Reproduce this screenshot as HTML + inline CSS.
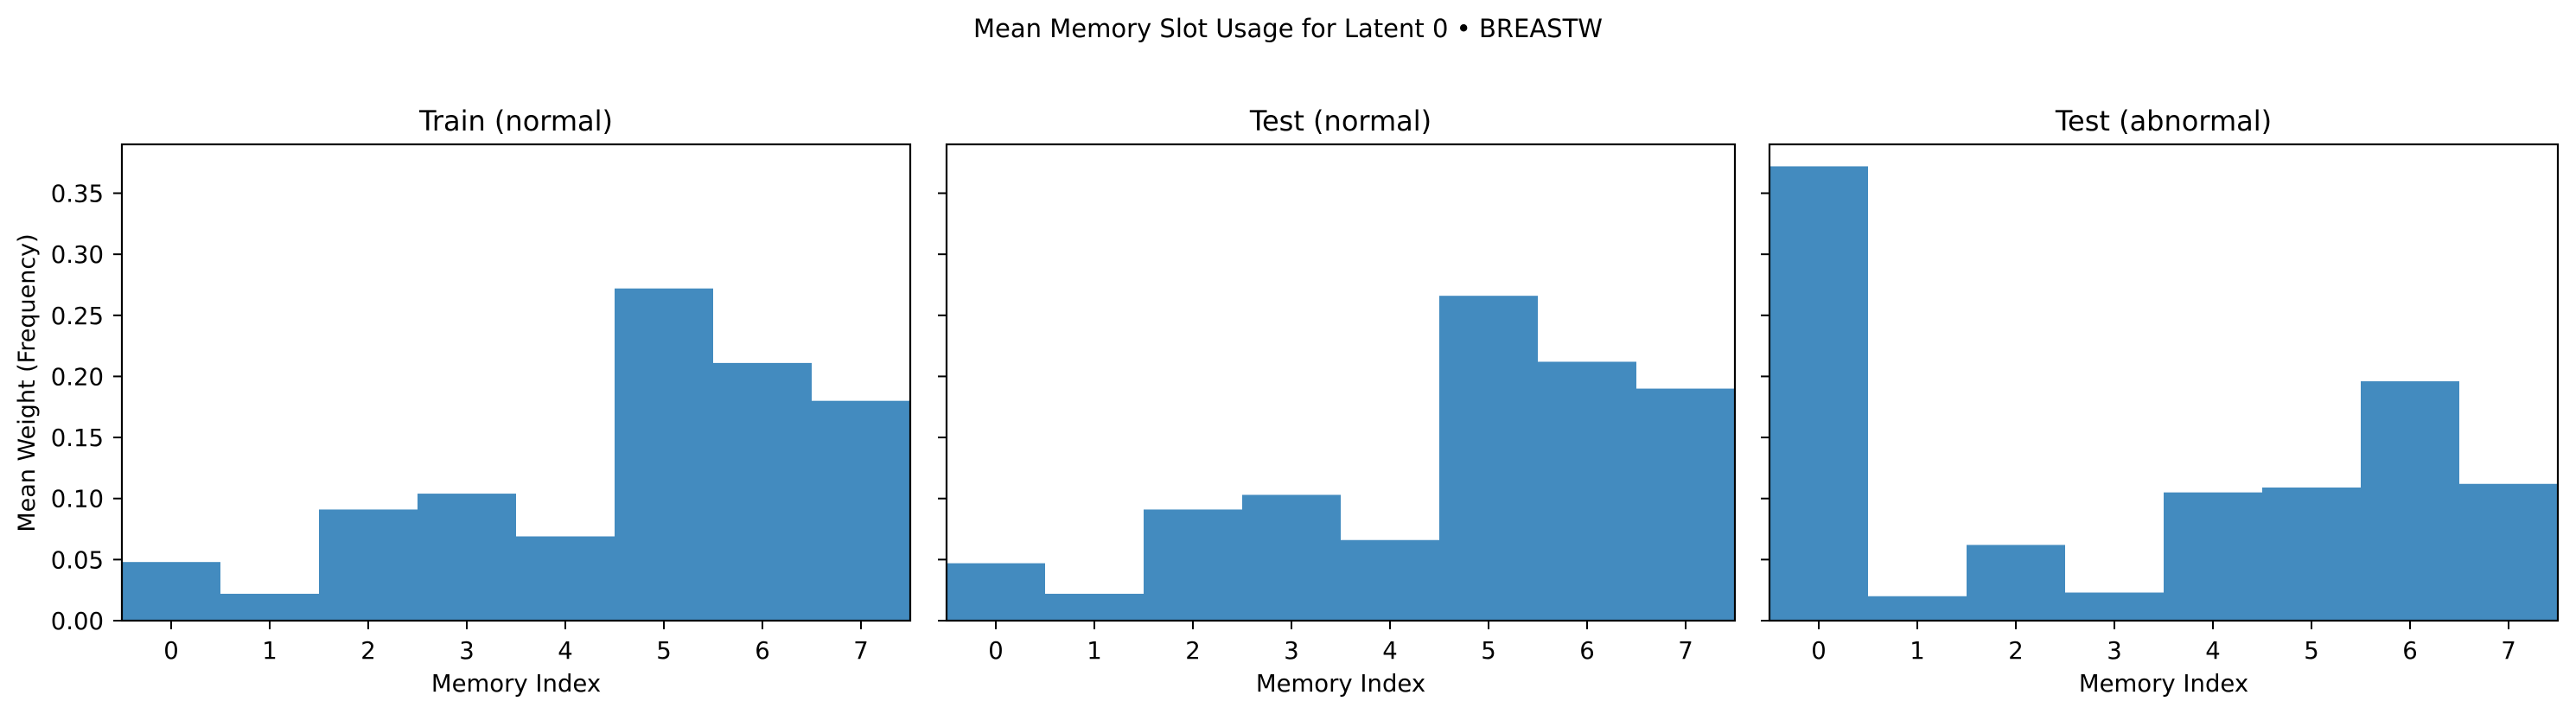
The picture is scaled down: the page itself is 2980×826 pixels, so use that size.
<!DOCTYPE html>
<html><head><meta charset="utf-8"><style>
html,body{margin:0;padding:0;background:#fff;}
svg{display:block;font-family:"DejaVu Sans","Liberation Sans",sans-serif;}
</style></head><body>
<svg id="chart" width="2980" height="826" viewBox="0 0 2980 826">
<text x="1490" y="43" font-size="29" text-anchor="middle" fill="#000">Mean Memory Slot Usage for Latent 0 • BREASTW</text>
<text transform="translate(40,443) rotate(-90)" font-size="27" text-anchor="middle" fill="#000">Mean Weight (Frequency)</text>
</svg>
<script>
const categories = [0,1,2,3,4,5,6,7];
const panelTitles = ["Train (normal)", "Test (normal)", "Test (abnormal)"];
const trainNormal = [0.048, 0.022, 0.091, 0.104, 0.069, 0.272, 0.211, 0.180];
const testNormal = [0.047, 0.022, 0.091, 0.103, 0.066, 0.266, 0.212, 0.190];
const testAbnormal = [0.372, 0.020, 0.062, 0.023, 0.105, 0.109, 0.196, 0.112];
const yTicks = [0, 0.05, 0.10, 0.15, 0.20, 0.25, 0.30, 0.35];
const yMax = 0.39;

{
const svg = document.getElementById('chart');
const NS = 'http://www.w3.org/2000/svg';
const series = [trainNormal, testNormal, testAbnormal];
const lefts = [141, 1095, 2047];
const W = 912, axTop = 167, axBottom = 718;
function mk(tag, attrs){const e=document.createElementNS(NS,tag);for(const k in attrs)e.setAttribute(k,attrs[k]);svg.appendChild(e);return e;}

series.forEach((vals, p) => {
  const L = lefts[p];
  const xs = v => L + (v + 0.5) / categories.length * W;
  const ys = v => axBottom - v / yMax * (axBottom - axTop);
  vals.forEach((v, i) => {
    const r = mk('rect', {x: xs(categories[i] - 0.5), y: ys(v), width: xs(categories[i] + 0.5) - xs(categories[i] - 0.5), height: ys(0) - ys(v), fill: 'rgb(67,139,191)'});
    
    
  });
  const frame = mk('rect', {x: L, y: axTop, width: W, height: axBottom - axTop, fill: 'none', stroke: '#000', 'stroke-width': 2.2});
  
  
  const t = mk('text', {x: L + W / 2, y: 151, 'font-size': 32, 'text-anchor': 'middle', fill: '#000'});
  t.textContent = panelTitles[p];
  
  
  categories.forEach(c => {
    const tk = mk('line', {x1: xs(c), x2: xs(c), y1: axBottom, y2: axBottom + 10, stroke: '#000', 'stroke-width': 2});
    
    
    const lb = mk('text', {x: xs(c), y: 762, 'font-size': 27.5, 'text-anchor': 'middle', fill: '#000'});
    lb.textContent = c;
    
    
  });
  yTicks.forEach(v => {
    const tk = mk('line', {x1: L - 10, x2: L, y1: ys(v), y2: ys(v), stroke: '#000', 'stroke-width': 2});
    
    
    if (p === 0) {
      const lb = mk('text', {x: 120, y: ys(v) + 10, 'font-size': 27.5, 'text-anchor': 'end', fill: '#000'});
      lb.textContent = v.toFixed(2);
      
      
    }
  });
  const xl = mk('text', {x: L + W / 2, y: 800, 'font-size': 27.5, 'text-anchor': 'middle', fill: '#000'});
  xl.textContent = 'Memory Index';
  
  
});
}
</script>
</body></html>
